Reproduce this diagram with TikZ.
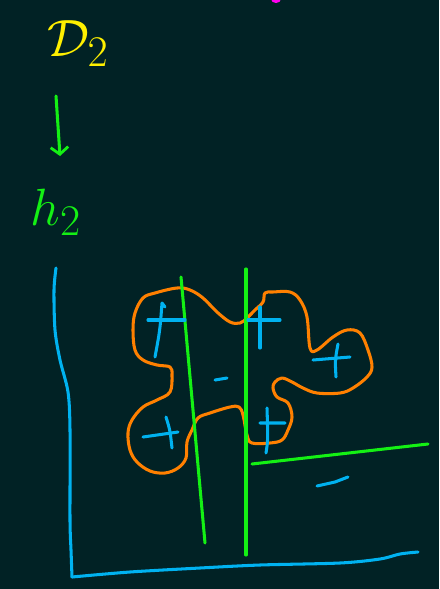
\documentclass[tikz,border=0pt]{standalone}
\usepackage{amsmath}
\usepackage{tikz}
\usetikzlibrary{arrows.meta, calc}

\definecolor{board}{RGB}{1,34,37}
\definecolor{penyellow}{RGB}{255,240,0}
\definecolor{pengreen}{RGB}{20,240,20}
\definecolor{penblue}{RGB}{0,178,240}
\definecolor{penorange}{RGB}{255,128,0}
\definecolor{penmagenta}{RGB}{255,0,240}

\newcommand{\bigpen}[1]{\scalebox{1.8}{\Huge$#1$}}

\begin{document}
\begin{tikzpicture}[x=0.03cm, y=-0.03cm, >={Straight Barb[length=6pt, width=15pt, line width=2.4pt]}]
        % Style definitions
        \tikzstyle{pen} = [line width=2.6pt, line cap=round, line join=round]
        \tikzstyle{bluepen} = [pen, penblue]
        \tikzstyle{greenpen} = [pen, pengreen]
        \tikzstyle{orangepen} = [pen, penorange]
        \tikzstyle{label} = [inner sep=0pt]

        % Board
        \fill [board] (0,0) rectangle (439,589);
        \useasboundingbox (0,0) rectangle (439,589);
        \fill [penmagenta] (276,-1) ellipse [x radius=5, y radius=4];

        % Labels and arrow
        \node [label, text=penyellow] (dtwo) at (78,44) {\bigpen{\mathcal{D}_{2}}};
        \node [label, text=pengreen] (htwo) at (56,212) {\bigpen{h_{2}}};
        \coordinate (arrtop) at (56,96);
        \coordinate (arrbot) at (60,156);
        \draw [greenpen, ->] (arrtop) -- (arrbot);

        % Axes
        \draw [bluepen] plot [smooth] coordinates {(56,268) (54,290) (55,330) (60,360) (68,392) (70,430) (70,520) (71,550) (72,577)};
        \draw [bluepen] plot [smooth] coordinates {(72,577) (130,572) (200,568) (260,565) (340,563) (380,559) (400,554) (418,552)};

        % Blob
        \draw [orangepen] plot [smooth cycle, tension=0.6] coordinates {
            (135,313) (143,298) (155,293) (177,288) (190,290) (203,298) (217,312) (230,322) (240,323)
            (247,318) (255,310) (263,302) (265,293) (273,292) (290,292) (300,300) (307,317) (310,348)
            (317,350) (333,337) (347,330) (360,333) (368,350) (372,367) (367,377) (353,388) (340,393)
            (317,393) (303,388) (292,382) (282,378) (275,382) (273,388) (277,397) (288,403) (292,417)
            (288,430) (282,440) (270,443) (252,443) (247,435) (243,415) (239,407) (230,407) (210,413)
            (198,418) (192,430) (187,442) (186,458) (178,468) (165,473) (150,471) (137,462) (130,450)
            (128,433) (132,420) (143,407) (157,400) (170,392) (172,375) (170,367) (157,365) (143,360)
            (135,350) (133,330)};

        % Separators
        \draw [greenpen] (181,277) -- (205,543);
        \draw [greenpen] (246,269) -- (246,555);
        \draw [greenpen] (252,464) -- (428,444);

        % Plus signs
        \draw [bluepen] (148,320) -- (185,320);
        \draw [bluepen] (165,307) -- (162,303) (162,303) .. controls (160,330) .. (155,357);
        \draw [bluepen] (248,320) -- (280,320) (260,307) -- (260,348);
        \draw [bluepen] (313,360) -- (350,357) (338,344) .. controls (335,360) .. (336,377);
        \draw [bluepen] (143,437) -- (178,432) (166,417) .. controls (170,430) .. (172,448);
        \draw [bluepen] (260,423) -- (285,423) (267,408) .. controls (268,440) .. (266,453);

        % Minus signs
        \draw [bluepen] (215,380) -- (227,378);
        \draw [bluepen] (317,486) -- (335,482) -- (348,477);
\end{tikzpicture}
\end{document}
